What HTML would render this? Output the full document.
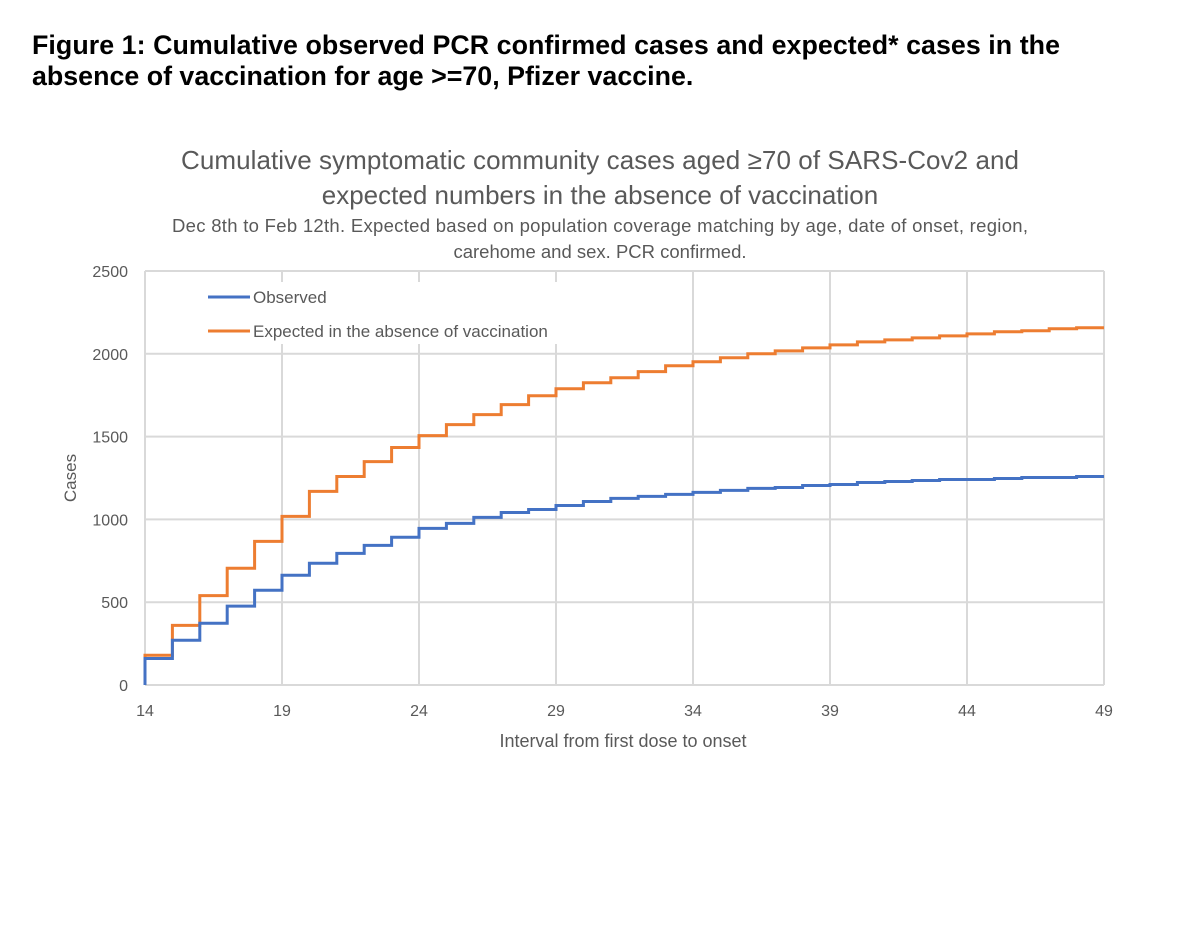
<!DOCTYPE html>
<html><head><meta charset="utf-8"><style>
body{margin:0;background:#fff;width:1200px;height:934px;overflow:hidden}
svg{display:block}
</style></head><body>
<svg id="c" width="1200" height="934">
<text x="32" y="54" font-family="Liberation Sans, sans-serif" font-weight="bold" font-size="26.8" fill="#000" textLength="1028">Figure 1: Cumulative observed PCR confirmed cases and expected* cases in the</text>
<text x="32" y="85" font-family="Liberation Sans, sans-serif" font-weight="bold" font-size="26.8" fill="#000">absence of vaccination for age &gt;=70, Pfizer vaccine.</text>
<g font-family="Liberation Sans, sans-serif" fill="#595959" text-anchor="middle">
<text x="600" y="169" font-size="26" textLength="838">Cumulative symptomatic community cases aged ≥70 of SARS-Cov2 and</text>
<text x="600" y="204" font-size="26">expected numbers in the absence of vaccination</text>
<text x="600" y="232" font-size="18.5" textLength="856">Dec 8th to Feb 12th.  Expected based on population coverage matching by age, date of onset, region,</text>
<text x="600" y="258" font-size="18.5">carehome and sex.  PCR confirmed.</text>
<text x="623" y="747" font-size="18">Interval from first  dose to onset</text>
<text transform="translate(76,478) rotate(-90)" font-size="17">Cases</text>
</g>
<g id="grid"></g>
<rect x="200" y="282" width="370" height="62" fill="#fff"/>
<g id="ticks" font-family="Liberation Sans, sans-serif" font-size="16" fill="#595959"></g>
<g id="series"></g>
<g font-family="Liberation Sans, sans-serif" font-size="17" fill="#595959">
<line x1="208" y1="297" x2="250" y2="297" stroke="#4472C4" stroke-width="3"/>
<text x="253" y="303">Observed</text>
<line x1="208" y1="331" x2="250" y2="331" stroke="#ED7D31" stroke-width="3"/>
<text x="253" y="337">Expected in the absence of vaccination</text>
</g>
</svg>
<script>
const days=[14,15,16,17,18,19,20,21,22,23,24,25,26,27,28,29,30,31,32,33,34,35,36,37,38,39,40,41,42,43,44,45,46,47,48];
const observed=[160,270,373,476,572,663,735,795,843,892,946,976,1012,1042,1060,1084,1108,1127,1139,1151,1163,1175,1187,1193,1205,1211,1223,1229,1235,1241,1241,1247,1253,1253,1259];
const expected=[180,360,540,705,867,1018,1169,1259,1349,1434,1506,1572,1633,1693,1747,1789,1825,1855,1892,1928,1952,1976,2000,2018,2036,2054,2072,2084,2096,2108,2120,2133,2139,2151,2157];
const xTicks=[14,19,24,29,34,39,44,49];
const yTicks=[0,500,1000,1500,2000,2500];
const X0=145,X1=1104,Y0=685,Y1=271,xMin=14,xMax=49,yMax=2500;
const xs=d=>X0+(d-xMin)/(xMax-xMin)*(X1-X0);
const ys=v=>Y0-v/yMax*(Y0-Y1);
const NS='http://www.w3.org/2000/svg';
const grid=document.getElementById('grid'),ticks=document.getElementById('ticks'),series=document.getElementById('series');
function mk(tag,attrs,parent){const e=document.createElementNS(NS,tag);for(const k in attrs)e.setAttribute(k,attrs[k]);parent.appendChild(e);return e;}
yTicks.forEach(v=>{
 const l=mk('line',{x1:X0,x2:X1,y1:ys(v),y2:ys(v),stroke:'#d9d9d9','stroke-width':2},grid);
 
 
 const t=mk('text',{x:128,y:ys(v)+6,'text-anchor':'end'},ticks);t.textContent=v;
 
 
});
xTicks.forEach(d=>{
 const l=mk('line',{x1:xs(d),x2:xs(d),y1:Y1,y2:Y0,stroke:'#d9d9d9','stroke-width':2},grid);
 
 
 const t=mk('text',{x:xs(d),y:716,'text-anchor':'middle'},ticks);t.textContent=d;
 
 
});
function step(vals,color,name){
 let p='M'+xs(days[0])+','+ys(0);
 vals.forEach((v,i)=>{p+=' L'+xs(days[i])+','+ys(v)+' L'+xs(days[i]+1)+','+ys(v);});
 const e=mk('path',{d:p,fill:'none',stroke:color,'stroke-width':3},series);
 
 
}
step(expected,'#ED7D31','expected-line');
step(observed,'#4472C4','observed-line');
</script>
</body></html>
